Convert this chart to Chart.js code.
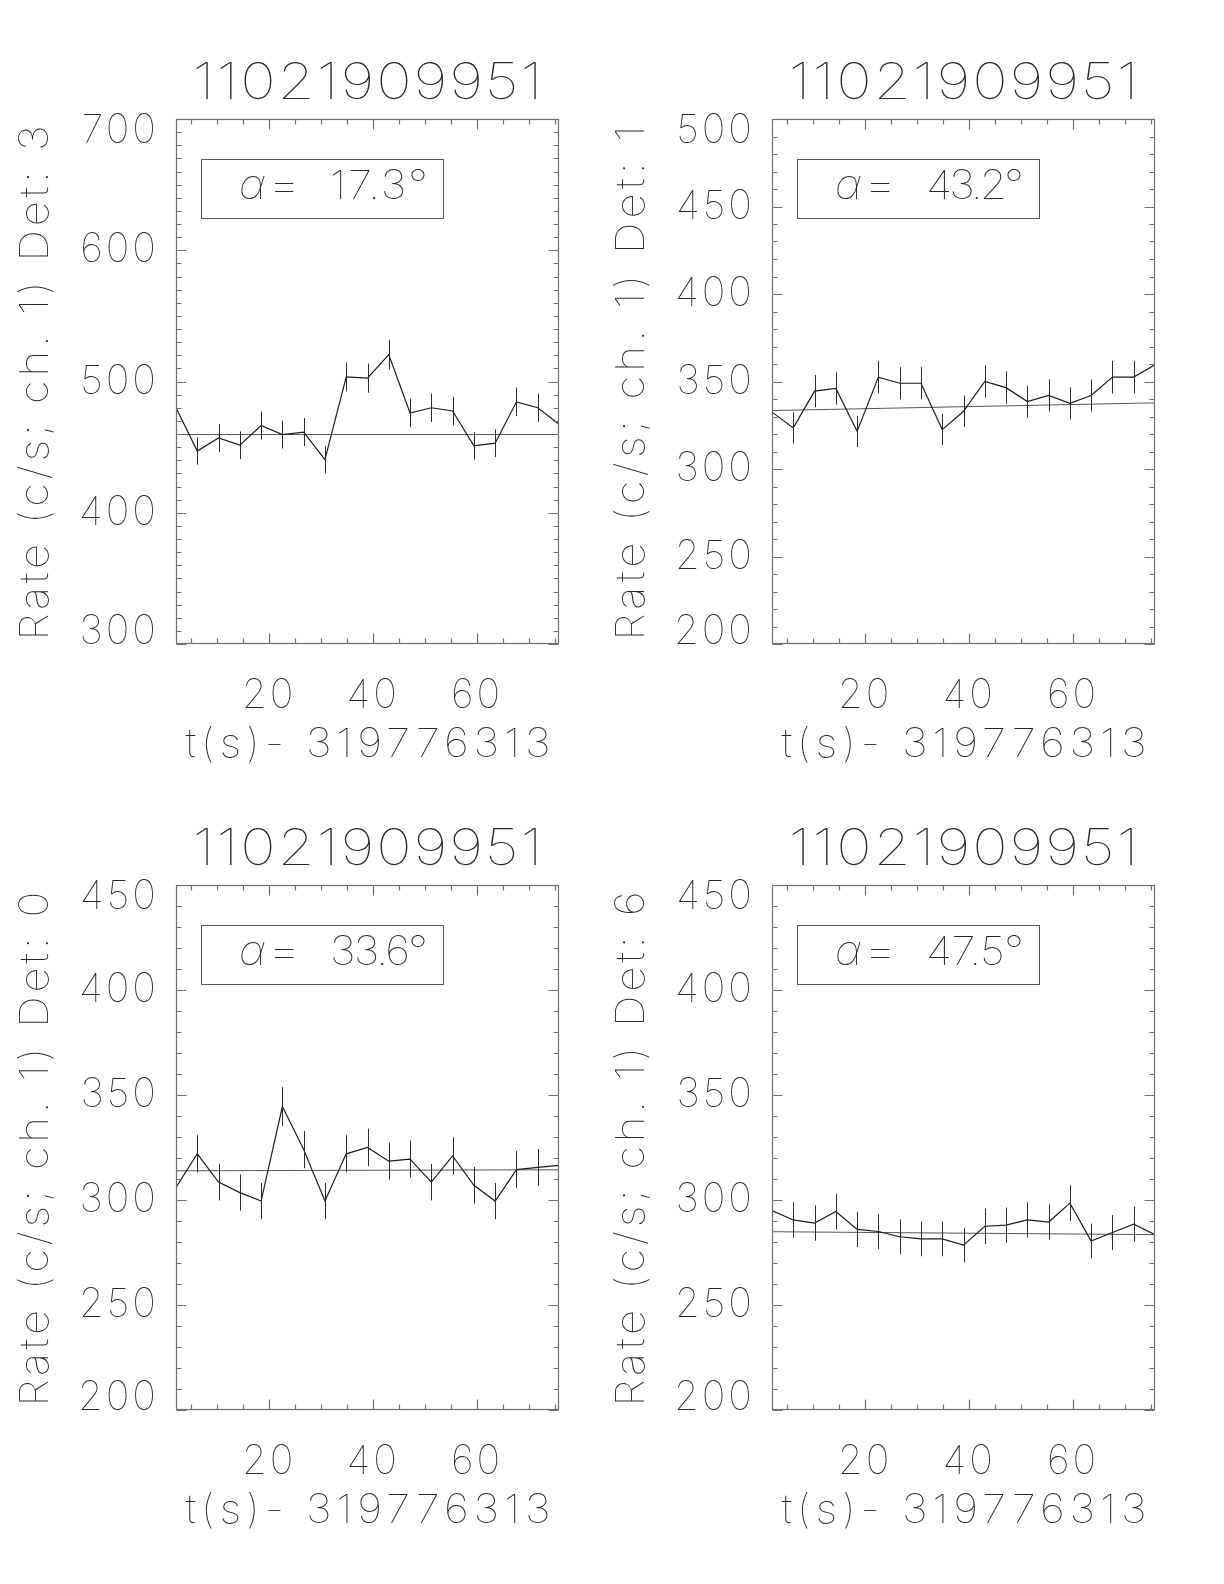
<!DOCTYPE html>
<html>
<head>
<meta charset="utf-8">
<script src="https://cdn.jsdelivr.net/npm/chart.js@4.4.1/dist/chart.umd.min.js"></script>
<style>
html, body { margin: 0; padding: 0; background: #fff; }
#wrap { position: relative; width: 1224px; height: 1584px; }
#wrap canvas { position: absolute; }
</style>
</head>
<body>
<div id="wrap">
    <canvas id="c0" width="612" height="792" style="left:0;top:0"></canvas>
    <canvas id="c1" width="612" height="792" style="left:596px;top:0"></canvas>
    <canvas id="c2" width="612" height="792" style="left:0;top:766px"></canvas>
    <canvas id="c3" width="612" height="792" style="left:596px;top:766px"></canvas>
</div>
<script>
// time bins (s after 319776313)
var timeBins = [2.048, 6.144, 10.240, 14.336, 18.432, 22.528, 26.624, 30.720, 34.816, 38.912,
                43.008, 47.104, 51.200, 55.296, 59.392, 63.488, 67.584, 71.680, 75.776];
var xTicks = [20, 40, 60];

var plotTitle = '11021909951';
var xTitle = 't(s)- 319776313';

// Det 3
var rateDet3 = [480, 447, 457, 451.5, 466.5, 459.5, 461.5, 440.5, 503.5, 502.5, 520.5, 476, 480, 477.5, 451, 453, 484.5, 480, 467.5];
var errDet3  = [10.8, 10.4, 10.6, 10.5, 10.7, 10.6, 10.6, 10.4, 11.1, 11.1, 11.3, 10.8, 10.8, 10.8, 10.5, 10.5, 10.9, 10.8, 10.7];
var fitDet3  = [459.6, 459.6];
var yTicksDet3 = [300, 400, 500, 600, 700];

// Det 1
var rateDet1 = [332.5, 323.5, 344.5, 346, 321.5, 352.5, 349, 349, 322.5, 333, 350, 346.5, 338.5, 342, 337.5, 342, 352.5, 352.5, 359.5];
var errDet1  = [9.0, 8.9, 9.2, 9.2, 8.9, 9.3, 9.2, 9.2, 8.9, 9.0, 9.2, 9.2, 9.1, 9.1, 9.1, 9.1, 9.3, 9.3, 9.4];
var fitDet1  = [333.4, 337.8];
var yTicksDet1 = [200, 250, 300, 350, 400, 450, 500];

// Det 0
var rateDet0 = [306, 322, 308.5, 303.5, 299.5, 344.5, 324, 299.5, 322, 325, 318.5, 319.5, 308.5, 321, 307, 299.5, 314.5, 315.5, 316.5];
var errDet0  = [8.6, 8.9, 8.7, 8.6, 8.6, 9.2, 8.9, 8.6, 8.9, 8.9, 8.8, 8.8, 8.7, 8.9, 8.7, 8.6, 8.8, 8.8, 8.8];
var fitDet0  = [313.9, 314.4];
var yTicksDet0 = [200, 250, 300, 350, 400, 450];

// Det 6
var rateDet6 = [295, 290.5, 289, 294.5, 286, 285, 282.5, 281.5, 281.5, 278.5, 287.5, 288, 290.5, 289.5, 298.5, 280.5, 284.5, 288.5, 283.5];
var errDet6  = [8.5, 8.4, 8.4, 8.5, 8.4, 8.3, 8.3, 8.3, 8.3, 8.2, 8.4, 8.4, 8.4, 8.4, 8.5, 8.3, 8.3, 8.4, 8.3];
var fitDet6  = [284.9, 283.5];
var yTicksDet6 = [200, 250, 300, 350, 400, 450];

var FONT = 'Inter';
var WEIGHT = '100';
var INK = '#262626';

// draw text widened and spaced so it spans a given width (IDL vector font is wide)
function spacedText(ctx, text, left, y, width, stretch) {
    var k = stretch || 1;
    ctx.save();
    ctx.translate(left, y);
    ctx.scale(k, 1);
    ctx.letterSpacing = '0px';
    var w = ctx.measureText(text).width;
    var sp = (width / k - w) / (text.length - 1);
    ctx.letterSpacing = sp + 'px';
    ctx.textAlign = 'left';
    ctx.fillText(text, 0, 0);
    ctx.restore();
}

function makePanel(canvasId, det, alpha, rates, errs, fit, yTicks) {
    var points = timeBins.map(function(t, i){ return {x: t, y: rates[i]}; });
    var fitPts = [{x: timeBins[0], y: fit[0]}, {x: timeBins[timeBins.length - 1], y: fit[1]}];
    var yMin = yTicks[0], yMax = yTicks[yTicks.length - 1];

    var idlPlugin = {
        id: 'idl' + canvasId,
        beforeDraw: function(chart) {
            chart.ctx.letterSpacing = '3px';
        },
        afterDatasetsDraw: function(chart) {
            var ctx = chart.ctx, a = chart.chartArea;
            var xs = chart.scales.x, ys = chart.scales.y;
            ctx.save();
            ctx.letterSpacing = '0px';

            // error bars
            ctx.save();
            ctx.beginPath();
            ctx.rect(a.left, a.top, a.right - a.left, a.bottom - a.top);
            ctx.clip();
            ctx.strokeStyle = '#2a2a2a';
            ctx.lineWidth = 1;
            ctx.beginPath();
            rates.forEach(function(r, i){
                var px = Math.round(xs.getPixelForValue(timeBins[i])) + 0.5;
                ctx.moveTo(px, ys.getPixelForValue(r - errs[i]));
                ctx.lineTo(px, ys.getPixelForValue(r + errs[i]));
            });
            ctx.stroke();
            ctx.restore();

            // frame + inward ticks on all sides
            var L = Math.round(a.left) + 0.5, R = Math.round(a.right) - 0.5;
            var T = Math.round(a.top) + 0.5, B = Math.round(a.bottom) - 0.5;
            ctx.strokeStyle = '#6e6e6e';
            ctx.lineWidth = 1.2;
            ctx.strokeRect(L, T, R - L, B - T);
            ctx.beginPath();
            var v, px, py, len;
            for (v = 5; v <= xs.max; v += 5) {
                if (v < xs.min) continue;
                px = Math.round(xs.getPixelForValue(v)) + 0.5;
                len = xTicks.indexOf(v) >= 0 ? 10 : 5;
                ctx.moveTo(px, B); ctx.lineTo(px, B - len);
                ctx.moveTo(px, T); ctx.lineTo(px, T + len);
            }
            for (v = yMin; v <= yMax; v += 10) {
                py = Math.round(ys.getPixelForValue(v)) + 0.5;
                len = yTicks.indexOf(v) >= 0 ? 10 : 5;
                ctx.moveTo(L, py); ctx.lineTo(L + len, py);
                ctx.moveTo(R, py); ctx.lineTo(R - len, py);
            }
            ctx.stroke();

            var cx = (a.left + a.right) / 2;
            var cy = (a.top + a.bottom) / 2;
            ctx.fillStyle = INK;
            ctx.textBaseline = 'alphabetic';

            // title
            ctx.font = WEIGHT + ' 50px ' + FONT;
            spacedText(ctx, plotTitle, cx - 175, a.top - 20, 350, 1.2);

            // x title
            ctx.font = WEIGHT + ' 40px ' + FONT;
            spacedText(ctx, xTitle, cx - 182, a.bottom + 113, 365, 1.1);

            // y title
            ctx.save();
            ctx.translate(48, cy + 2);
            ctx.rotate(-Math.PI / 2);
            spacedText(ctx, 'Rate (c/s; ch. 1) Det: ' + det, -257, 0, 515, 1.1);
            ctx.restore();

            // alpha box
            ctx.strokeStyle = '#555';
            ctx.lineWidth = 1;
            ctx.strokeRect(a.left + 25.5, a.top + 40.5, 242, 59);
            ctx.textAlign = 'left';
            ctx.font = 'italic ' + WEIGHT + ' 42px ' + FONT;
            ctx.fillText('\u03b1', a.left + 63, a.top + 80);
            ctx.save();
            ctx.translate(a.left + 91, a.top + 80);
            ctx.scale(1.35, 1);
            ctx.font = WEIGHT + ' 40px ' + FONT;
            ctx.fillText('=', 0, 0);
            ctx.restore();
            ctx.font = WEIGHT + ' 40px ' + FONT;
            spacedText(ctx, alpha + '\u00b0', a.left + 154, a.top + 80, 98, 1.1);

            ctx.restore();
        }
    };

    return new Chart(document.getElementById(canvasId), {
        type: 'line',
        data: {
            datasets: [{
                data: points,
                borderColor: '#1a1a1a',
                borderWidth: 1.2,
                pointRadius: 0,
                tension: 0,
                fill: false
            }, {
                data: fitPts,
                borderColor: '#555',
                borderWidth: 1,
                pointRadius: 0,
                tension: 0,
                fill: false
            }]
        },
        options: {
            responsive: false,
            animation: false,
            devicePixelRatio: 1,
            events: [],
            layout: { padding: { top: 119, right: 53, left: 0, bottom: 0 } },
            plugins: { legend: { display: false }, tooltip: { enabled: false } },
            scales: {
                x: {
                    type: 'linear',
                    min: timeBins[0],
                    max: timeBins[timeBins.length - 1],
                    afterBuildTicks: function(s){ s.ticks = xTicks.map(function(v){ return {value: v}; }); },
                    afterFit: function(s){ s.height = 148; },
                    grid: { display: false, drawTicks: false },
                    border: { display: false },
                    ticks: {
                        autoSkip: false, maxRotation: 0, padding: 28, color: INK,
                        font: { family: FONT, size: 40, weight: WEIGHT }
                    }
                },
                y: {
                    min: yMin,
                    max: yMax,
                    afterBuildTicks: function(s){ s.ticks = yTicks.map(function(v){ return {value: v}; }); },
                    afterFit: function(s){ s.width = 176; },
                    grid: { display: false, drawTicks: false },
                    border: { display: false },
                    ticks: {
                        padding: 17, color: INK,
                        font: { family: FONT, size: 40, weight: WEIGHT, lineHeight: 0.6 },
                        // IDL nudges the end labels inside the frame
                        callback: function(v, i, ticks){
                            if (i === ticks.length - 1) return ['', String(v)];
                            if (i === 0) return [String(v), ''];
                            return String(v);
                        }
                    }
                }
            }
        },
        plugins: [idlPlugin]
    });
}

makePanel('c0', '3', '17.3', rateDet3, errDet3, fitDet3, yTicksDet3);
makePanel('c1', '1', '43.2', rateDet1, errDet1, fitDet1, yTicksDet1);
makePanel('c2', '0', '33.6', rateDet0, errDet0, fitDet0, yTicksDet0);
makePanel('c3', '6', '47.5', rateDet6, errDet6, fitDet6, yTicksDet6);
</script>
</body>
</html>
